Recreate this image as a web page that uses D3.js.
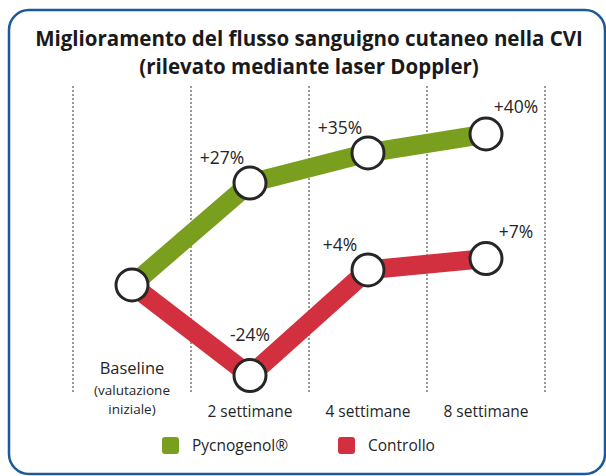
<!DOCTYPE html>
<html>
<head>
<meta charset="utf-8">
<script src="https://cdn.jsdelivr.net/npm/d3@7"></script>
<style>
  html, body { margin: 0; padding: 0; background: #fff; }
  svg { display: block; font-family: "Open Sans", "Noto Sans", sans-serif; }
</style>
</head>
<body>
<div id="chart"></div>
<script>
// Flusso sanguigno cutaneo (laser Doppler): variazione % rispetto al baseline
const categories = ['Baseline', '2 settimane', '4 settimane', '8 settimane'];
const pycnogenol = [0, 27, 35, 40];
const controllo = [0, -24, 4, 7];
const seriesNames = ['Pycnogenol®', 'Controllo'];
const title = ['Miglioramento del flusso sanguigno cutaneo nella CVI', '(rilevato mediante laser Doppler)'];

const width = 606, height = 476;
const green = '#7a9e1e', red = '#d3303f', ink = '#262626';

const svg = d3.select('#chart').append('svg')
  .attr('width', width).attr('height', height);

// cornice blu con angoli arrotondati (esce a destra e in basso)
svg.append('rect')
  .attr('x', 9).attr('y', 10).attr('width', 596).attr('height', 464)
  .attr('rx', 20).attr('fill', 'none')
  .attr('stroke', '#1b5a98').attr('stroke-width', 2.5);

svg.append('g').selectAll('text').data(title).join('text')
  .attr('x', 309).attr('y', (d, i) => 46 + i * 28)
  .attr('text-anchor', 'middle')
  .attr('font-size', '20.5px').attr('font-weight', 700)
  .attr('fill', '#1a1a1a')
  .text(d => d);

const x = d3.scaleBand().domain(categories).range([73, 545]);
const cx = d => x(d) + x.bandwidth() / 2;
const y = d3.scaleLinear().domain([0, 40]).range([285, 134]);

// linee tratteggiate tra le categorie
const bounds = categories.map(c => x(c)).concat([x.range()[1]]);
svg.append('g').selectAll('line').data(bounds).join('line')
  .attr('x1', d => d).attr('x2', d => d)
  .attr('y1', 86).attr('y2', 394)
  .attr('stroke', '#333').attr('stroke-width', 1)
  .attr('stroke-dasharray', '2,2');

const line = d3.line().x(d => cx(d.cat)).y(d => y(d.v));
const toPts = vals => vals.map((v, i) => ({ cat: categories[i], v }));

const series = [
  { name: seriesNames[1], color: red, pts: toPts(controllo) },
  { name: seriesNames[0], color: green, pts: toPts(pycnogenol) }
];

svg.append('g').selectAll('path').data(series).join('path')
  .attr('d', d => line(d.pts))
  .attr('fill', 'none').attr('stroke', d => d.color)
  .attr('stroke-width', 19).attr('stroke-linejoin', 'round');

// cerchi bianchi sui punti
const allPts = series.flatMap(s => s.pts.map((p, i) => ({ ...p, i, s: s.name })));
const uniq = allPts.filter(p => !(p.i === 0 && p.s === seriesNames[1]));
svg.append('g').selectAll('circle').data(uniq).join('circle')
  .attr('cx', d => cx(d.cat)).attr('cy', d => y(d.v))
  .attr('r', 16).attr('fill', '#fff')
  .attr('stroke', ink).attr('stroke-width', 3);

// etichette percentuali: sopra a sinistra, ultima colonna sopra a destra
const fmt = v => (v > 0 ? '+' : '') + v + '%';
const lblOff = (d) => {
  if (d.v < 0) return [0, -35];
  if (d.i === 3) return [30, -21];
  return [-28, -19];
};
svg.append('g').selectAll('text').data(uniq.filter(d => d.i > 0)).join('text')
  .attr('x', d => cx(d.cat) + lblOff(d)[0])
  .attr('y', d => y(d.v) + lblOff(d)[1])
  .attr('text-anchor', 'middle')
  .attr('font-size', '17.5px').attr('fill', ink)
  .text(d => fmt(d.v));

// etichette asse x
const xl = svg.append('g');
xl.selectAll('text').data(categories.slice(1)).join('text')
  .attr('x', d => cx(d)).attr('y', 417)
  .attr('text-anchor', 'middle').attr('font-size', '15.5px').attr('fill', ink)
  .text(d => d);
xl.append('text').attr('x', cx(categories[0])).attr('y', 374)
  .attr('text-anchor', 'middle').attr('font-size', '16.5px').attr('fill', ink)
  .text(categories[0]);
xl.selectAll('.sub').data(['(valutazione', 'iniziale)']).join('text')
  .attr('class', 'sub')
  .attr('x', cx(categories[0])).attr('y', (d, i) => 395 + i * 19)
  .attr('text-anchor', 'middle').attr('font-size', '13.5px').attr('fill', ink)
  .text(d => d);

// legenda
const legend = [
  { name: seriesNames[0], color: green, x: 162 },
  { name: seriesNames[1], color: red, x: 338 }
];
const lg = svg.append('g').selectAll('g').data(legend).join('g')
  .attr('transform', d => `translate(${d.x},437)`);
lg.append('rect').attr('width', 17).attr('height', 17).attr('rx', 3)
  .attr('fill', d => d.color);
lg.append('text').attr('x', 30).attr('y', 14)
  .attr('font-size', '15.5px').attr('fill', ink)
  .text(d => d.name);
</script>
</body>
</html>
